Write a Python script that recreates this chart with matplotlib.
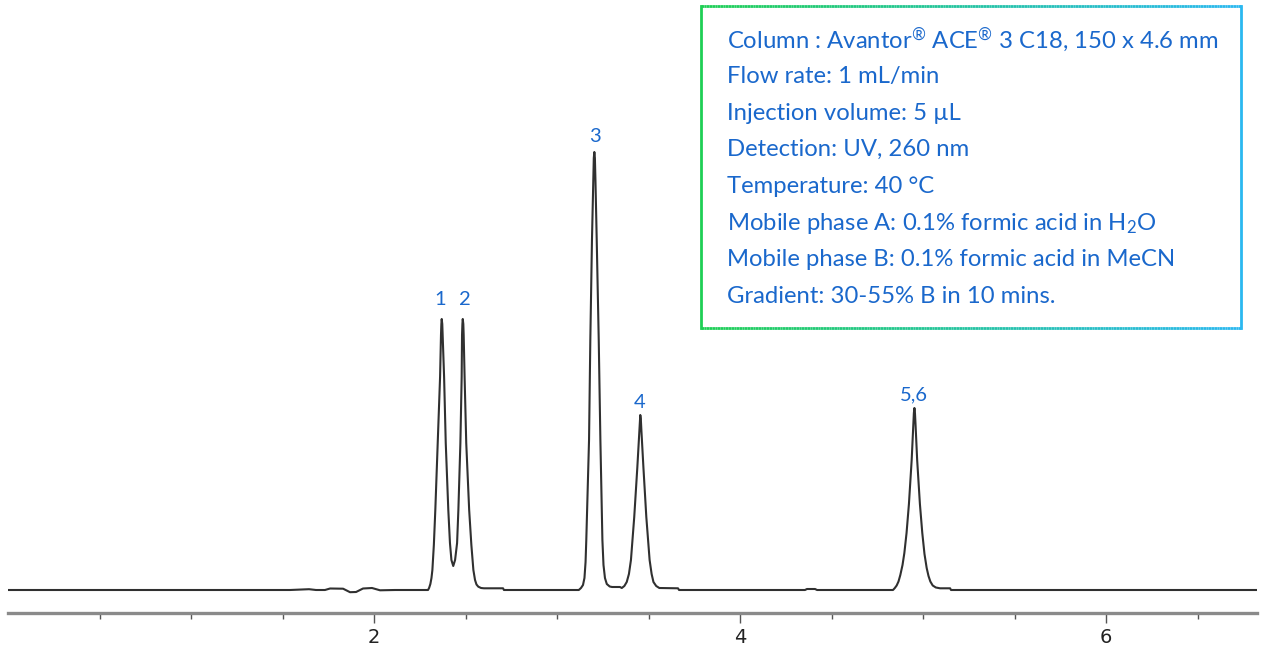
import numpy as np
import matplotlib.pyplot as plt
from matplotlib.collections import LineCollection
from matplotlib.colors import LinearSegmentedColormap

# chromatogram trace (time in min, signal in arbitrary units)
time_min = [
    0.000, 1.541, 1.645, 1.683, 1.732, 1.760, 1.831, 1.869, 1.902, 1.940, 1.989, 2.033, 2.115,
    # peaks 1 and 2
    2.295, 2.301, 2.308, 2.314, 2.319, 2.327, 2.335, 2.348, 2.361, 2.366, 2.368, 2.370, 2.373,
    2.375, 2.383, 2.392, 2.406, 2.415, 2.423, 2.433, 2.443, 2.454, 2.461, 2.472, 2.479, 2.481,
    2.483, 2.485, 2.488, 2.490, 2.495, 2.504, 2.520, 2.532, 2.543, 2.552, 2.560, 2.570, 2.585,
    2.601, 2.705, 2.710,
    # peak 3
    3.119, 3.131, 3.142, 3.150, 3.156, 3.160, 3.175, 3.182, 3.191, 3.198, 3.201, 3.204, 3.207,
    3.210, 3.217, 3.228, 3.237, 3.248, 3.254, 3.262, 3.272, 3.288, 3.301, 3.344,
    # peak 4
    3.354, 3.368, 3.381, 3.393, 3.404, 3.422, 3.439, 3.450, 3.453, 3.455, 3.458, 3.461, 3.472,
    3.488, 3.506, 3.517, 3.527, 3.542, 3.559, 3.661, 3.667,
    4.355, 4.366, 4.410, 4.421,
    # peak 5,6
    4.836, 4.846, 4.856, 4.866, 4.876, 4.888, 4.898, 4.910, 4.923, 4.938, 4.947, 4.950, 4.953,
    4.956, 4.959, 4.968, 4.983, 4.996, 5.008, 5.020, 5.030, 5.040, 5.053, 5.070, 5.093, 5.148,
    5.153, 6.825,
]
signal = [
    0.0, 0.0, 0.08, 0.0, 0.0, 0.15, 0.13, -0.22, -0.2, 0.15, 0.2, -0.03, 0.0,
    0.0, 0.2, 0.6, 1.2, 2.0, 4.5, 8.0, 14.7, 21.3, 25.5, 26.6, 27.1, 26.6,
    25.5, 21.3, 14.7, 8.0, 4.7, 3.0, 2.4, 3.0, 4.7, 8.0, 14.7, 21.3, 25.5,
    26.6, 27.1, 26.6, 25.5, 21.3, 14.7, 8.0, 4.5, 2.0, 1.0, 0.55, 0.33, 0.2,
    0.17, 0.17, 0.0,
    0.0, 0.2, 0.5, 1.2, 2.8, 5.0, 15.0, 25.0, 35.0, 41.0, 43.2, 43.8, 43.2,
    41.0, 35.0, 25.0, 15.0, 5.0, 2.5, 1.2, 0.6, 0.35, 0.3, 0.3,
    0.2, 0.4, 0.8, 1.6, 3.0, 7.3, 12.3, 16.0, 17.1, 17.5, 17.1, 16.0, 12.3,
    7.3, 3.0, 1.6, 0.8, 0.4, 0.2, 0.17, 0.0,
    0.0, 0.1, 0.1, 0.0,
    0.0, 0.2, 0.45, 0.85, 1.5, 2.5, 3.7, 5.7, 8.6, 13.0, 16.6, 17.7, 18.2,
    17.7, 16.6, 13.0, 8.6, 5.7, 3.6, 2.2, 1.4, 0.85, 0.45, 0.25, 0.17, 0.17,
    0.0, 0.0,
]

peak_labels = ["1", "2", "3", "4", "5,6"]
peak_label_t = [2.361, 2.497, 3.208, 3.454, 4.951]
peak_label_s = [29.0, 29.0, 45.3, 18.8, 19.5]

major_ticks = [2, 4, 6]
minor_ticks = [0.5, 1.0, 1.5, 2.5, 3.0, 3.5, 4.5, 5.0, 5.5, 6.5]

conditions = [
    "Column : Avantor$^{\u00ae}$ ACE$^{\u00ae}$ 3 C18, 150 x 4.6 mm",
    "Flow rate: 1 mL/min",
    "Injection volume: 5 \u00b5L",
    "Detection: UV, 260 nm",
    "Temperature: 40 \u00b0C",
    "Mobile phase A: 0.1% formic acid in H$_2$O",
    "Mobile phase B: 0.1% formic acid in MeCN",
    "Gradient: 30-55% B in 10 mins.",
]

W, H = 1263, 650
blue = "#1a68cc"

plt.rcParams['mathtext.fontset'] = 'custom'
plt.rcParams['mathtext.rm'] = 'Lato'
plt.rcParams['mathtext.it'] = 'Lato'
plt.rcParams['mathtext.bf'] = 'Lato'

fig = plt.figure(figsize=(W / 100, H / 100), dpi=100)
ax = fig.add_axes([8 / W, (H - 613) / H, (1257 - 8) / W, 613 / H])
ax.set_xlim(0, 6.825)
ax.set_ylim(-2.3, 59.0)

ax.plot(time_min, signal, color="#303030", lw=1.5, solid_joinstyle="round")

for lab, t, s in zip(peak_labels, peak_label_t, peak_label_s):
    ax.text(t, s, lab, color=blue, fontsize=14.5, family="Lato",
            ha="center", va="center")

for side in ["top", "right", "left"]:
    ax.spines[side].set_visible(False)
ax.spines["bottom"].set_color("#8a8a8a")
ax.spines["bottom"].set_linewidth(2.4)
ax.set_yticks([])
ax.set_xticks(major_ticks)
ax.set_xticks(minor_ticks, minor=True)
ax.tick_params(axis="x", which="major", length=7, width=1, color="#555555",
               pad=4, labelsize=14, labelcolor="#222222")
ax.tick_params(axis="x", which="minor", length=4, width=1, color="#555555")
for lbl in ax.get_xticklabels():
    lbl.set_fontfamily(["Liberation Sans Narrow", "DejaVu Sans"])

# conditions box with green -> blue gradient border
x0, x1 = 701 / W, 1241 / W
y0, y1 = 1 - 328 / H, 1 - 6 / H
cmap = LinearSegmentedColormap.from_list("edge", ["#1fcf55", "#2ab8f0"])
xs = np.linspace(x0, x1, 200)
cols = cmap(np.linspace(0, 1, len(xs) - 1))
for yy in (y0, y1):
    segs = [[(xs[i], yy), (xs[i + 1], yy)] for i in range(len(xs) - 1)]
    fig.add_artist(LineCollection(segs, colors=cols, linewidths=2.0,
                                  transform=fig.transFigure))
fig.add_artist(plt.Line2D([x0, x0], [y0, y1], color="#1fcf55", lw=2.0,
                          transform=fig.transFigure))
fig.add_artist(plt.Line2D([x1, x1], [y0, y1], color="#2ab8f0", lw=2.0,
                          transform=fig.transFigure))

for i, line in enumerate(conditions):
    fig.text(727 / W, 1 - (40 + 36.6 * i) / H, line, color=blue,
             fontsize=17.2, family="Lato", ha="left", va="center")

fig.savefig("out.png", dpi=100)
